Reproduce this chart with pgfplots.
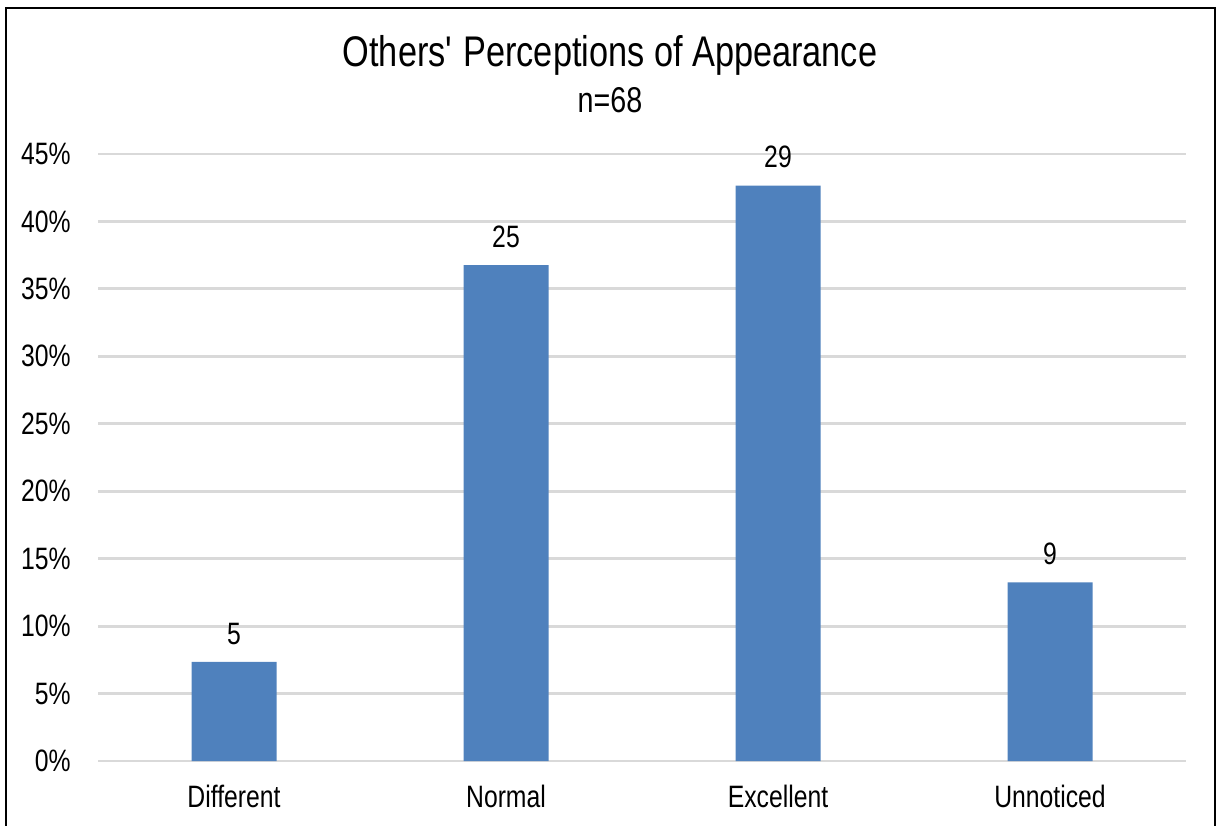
\documentclass[border=0pt]{standalone}
\usepackage{pgfplots}
\pgfplotsset{compat=1.18}
\usepackage{fontspec}
\setmainfont{Liberation Sans}[FakeStretch=0.8]
\definecolor{barblue}{HTML}{4F81BD}
\definecolor{gridgray}{HTML}{D9D9D9}

\begin{document}
\begin{tikzpicture}[x=1cm,y=1cm]
\useasboundingbox (0,0) rectangle (12.21,8.25);
\draw[line width=0.6pt] (0.06,-0.5) rectangle (12.15,8.17);
\node[font=\fontsize{12.2}{14}\selectfont] at (6.10,7.70) {Others\textquotesingle{} Perceptions of Appearance};
\node[font=\fontsize{10.2}{12}\selectfont] at (6.10,7.25) {n=68};
\begin{axis}[
    at={(0.98cm,0.64cm)}, anchor=south west,
    scale only axis,
    width=10.88cm, height=6.07cm,
    ybar, bar width=0.85cm,
    xmin=-0.5, xmax=3.5,
    ymin=0, ymax=45,
    ytick={0,5,...,45},
    yticklabel={\pgfmathprintnumber{\tick}\%},
    xtick=data,
    xticklabels={Different,Normal,Excellent,Unnoticed},
    axis line style={draw=none},
    major tick length=0pt,
    ymajorgrids, grid style={gridgray, line width=0.8pt},
    tick label style={font=\fontsize{8.8}{10}\selectfont},
    /pgf/number format/assume math mode=true,
    yticklabel style={xshift=-0.15cm},
    xticklabel style={yshift=-0.12cm},
    point meta=explicit symbolic,
    nodes near coords,
    every node near coord/.append style={font=\fontsize{8.8}{10}\selectfont, yshift=0.05cm},
]
\addplot[draw=none, fill=barblue] coordinates {
    (0,7.35)[5] (1,36.76)[25] (2,42.65)[29] (3,13.24)[9]
};
\end{axis}
\end{tikzpicture}
\end{document}
